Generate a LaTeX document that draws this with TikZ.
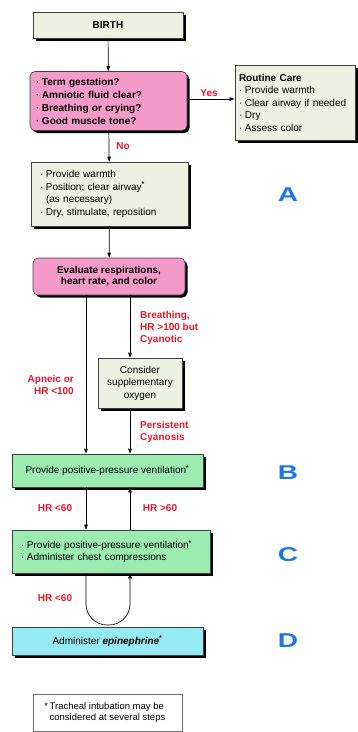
\documentclass[tikz,border=0pt]{standalone}
\usepackage{fontspec}
\setmainfont{Liberation Sans}
\usepackage{graphicx}
\usetikzlibrary{positioning}
\usetikzlibrary{arrows.meta, shadows, calc}
\definecolor{paleg}{RGB}{236,241,226}
\definecolor{pinkbox}{RGB}{244,154,200}
\definecolor{greenbox}{RGB}{156,236,178}
\definecolor{cyanbox}{RGB}{150,234,244}
\definecolor{redtxt}{RGB}{232,20,40}
\definecolor{bluetxt}{RGB}{30,118,230}
\newcommand{\bl}{\makebox[6pt][l]{·}}
\newcommand{\stx}{\textsuperscript{\textbf{*}}}

\begin{document}
\begin{tikzpicture}[x=1pt, y=-1pt,
    box/.style={draw=black!75, line width=0.6pt, fill=paleg, inner sep=0pt,
        drop shadow={shadow xshift=2.5pt, shadow yshift=-2.5pt, fill=black, opacity=1},
        font=\fontsize{10}{12.5}\selectfont},
    qbox/.style={box, fill=pinkbox, rounded corners=5pt},
    lbl/.style={text=redtxt, font=\fontsize{10}{12}\selectfont\bfseries, inner sep=0pt},
    big/.style={text=bluetxt, font=\fontsize{20}{20}\selectfont\bfseries},
    arr/.style={-{Triangle[length=5pt, width=3.5pt]}, line width=0.7pt}]
    \useasboundingbox (0,0) rectangle (357,732);

    % the two columns the vertical connectors run in
    \coordinate (colL) at (86,0);
    \coordinate (colR) at (130,0);
    \coordinate (loopY) at (0,625);

    % BIRTH and the first questions
    \node[box, minimum width=150pt, minimum height=26pt, font=\fontsize{10}{12}\selectfont\bfseries] (birth) at (108,25) {BIRTH};
    \node[qbox, minimum width=157pt, minimum height=59pt, text width=145pt, align=left,
        font=\fontsize{10}{13}\selectfont\bfseries] (check) at (108.5,101)
        {\bl Term gestation?\\ \bl Amniotic fluid clear?\\ \bl Breathing or crying?\\ \bl Good muscle tone?};
    \draw[arr] (birth) -- (check);

    % Yes: routine care
    \node[box, minimum width=120pt, minimum height=75pt, text width=112pt, align=left] (routine) at (295,102.5)
        {\textbf{Routine Care}\\ \bl Provide warmth\\ \bl Clear airway if needed\\ \bl Dry\\ \bl Assess color};
    \draw[arr] (check.east |- 0,99) -- (routine.west |- 0,99);
    \node[lbl] (yes) at (209,93) {Yes};

    % No: step A
    \node[box, minimum width=157pt, minimum height=64pt, text width=139pt, align=left] (stepA) at (109.5,194)
        {\bl Provide warmth\\ \bl Position; clear airway\stx\\ \hspace*{6pt}(as necessary)\\ \bl Dry, stimulate, reposition};
    \draw[arr] (check) -- (stepA);
    \node[lbl] (no) at (123,146) {No};
    \node[big] (letA) at (288,195) {\scalebox{1.4}[1]{A}};

    % evaluate
    \node[qbox, minimum width=152pt, minimum height=37pt, align=center,
        font=\fontsize{10}{11}\selectfont\bfseries] (eval) at (109,276.5)
        {Evaluate respirations,\\ heart rate, and color};
    \draw[arr] (stepA) -- (eval);

    % oxygen branch
    \node[box, minimum width=84pt, minimum height=50pt, align=center] (oxygen) at (140,383)
        {Consider\\ supplementary\\ oxygen};
    \draw[arr] (eval.south -| colR) -- (oxygen.north -| colR);
    \node[lbl, align=left, anchor=west] (breath) at (140,328) {Breathing,\\ HR >100 but\\ Cyanotic};

    % step B
    \node[box, fill=greenbox, minimum width=191pt, minimum height=33pt] (ppv) at (107.5,470.5)
        {Provide positive-pressure ventilation\stx};
    \draw[arr] (eval.south -| colL) -- (ppv.north -| colL);
    \draw[arr] (oxygen.south -| colR) -- (ppv.north -| colR);
    \node[lbl, align=right, anchor=east] (apneic) at (74,385) {Apneic or\\ HR <100};
    \node[lbl, align=left, anchor=west] (persist) at (140,432) {Persistent\\ Cyanosis};
    \node[big] (letB) at (288,473) {\scalebox{1.4}[1]{B}};

    % step C
    \node[box, fill=greenbox, minimum width=198pt, minimum height=43pt, text width=180pt, align=left,
        font=\fontsize{10}{11.5}\selectfont] (cpr) at (111,551.5)
        {\bl Provide positive-pressure ventilation\stx\\ \bl Administer chest compressions};
    \draw[arr] (ppv.south -| colL) -- (cpr.north -| colL);
    \draw[arr] (cpr.north -| colR) -- (ppv.south -| colR);
    \node[lbl] (lt60a) at (55,508) {HR <60};
    \node[lbl] (gt60) at (160,508) {HR >60};
    \node[big] (letC) at (288,555) {\scalebox{1.4}[1]{C}};

    % loop below C
    \draw[arr, rounded corners=21pt] (cpr.south -| colL) -- (colL |- loopY) -- (colR |- loopY) -- (cpr.south -| colR);
    \node[lbl] (lt60b) at (55,598) {HR <60};

    % step D
    \node[box, fill=cyanbox, minimum width=191pt, minimum height=28pt] (epi) at (107.5,641)
        {Administer \textbf{\textit{epinephrine}}\stx};
    \node[big] (letD) at (288,641) {\scalebox{1.4}[1]{D}};

    % footnote
    \node[draw=black!55, line width=0.5pt, minimum width=149pt, minimum height=37pt, inner sep=0pt,
        align=left, font=\fontsize{9.5}{11}\selectfont] (note) at (107.5,713)
        {\llap{*\,}Tracheal intubation may be\\ considered at several steps};
\end{tikzpicture}
\end{document}
